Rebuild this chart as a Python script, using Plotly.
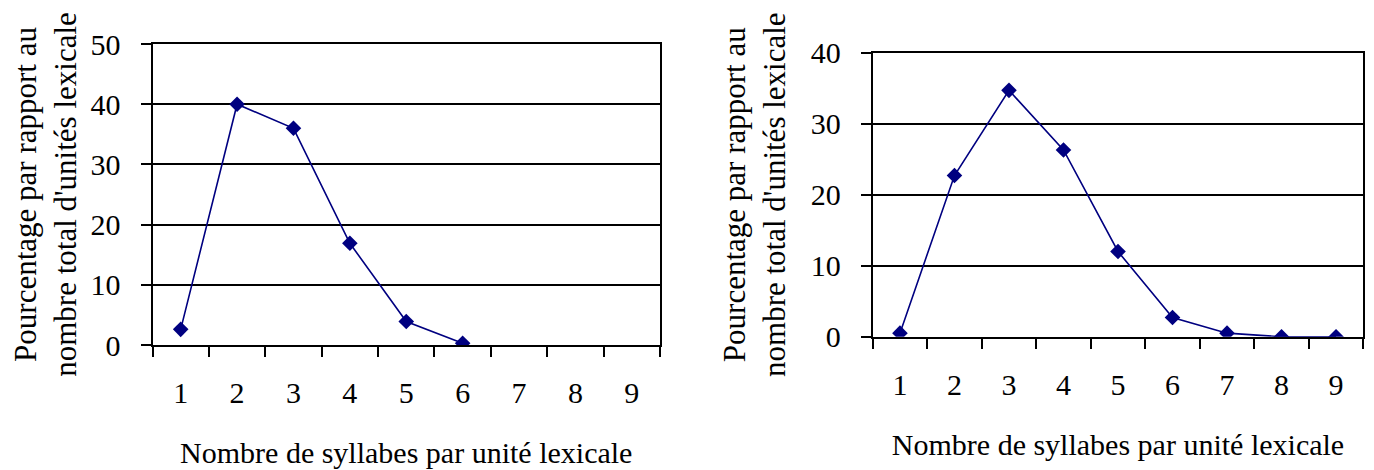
import plotly.graph_objects as go

# ---- data ----
syllables = [1, 2, 3, 4, 5, 6, 7, 8, 9]
left_x = [1, 2, 3, 4, 5, 6]
left_pct = [2.6, 40.0, 36.0, 16.9, 3.9, 0.3]
right_x = [1, 2, 3, 4, 5, 6, 7, 8, 9]
right_pct = [0.5, 22.7, 34.7, 26.3, 12.0, 2.7, 0.5, 0.0, 0.0]
left_yticks = [0, 10, 20, 30, 40, 50]
right_yticks = [0, 10, 20, 30, 40]
x_title = "Nombre de syllabes par unité lexicale"
y_title = "Pourcentage par rapport au<br>nombre total d'unités lexicale"

OFF = 8  # page body margin of the browser
W, H = 1374 - 2 * OFF, 470 - OFF
NAVY = "#000080"
FONT = "Liberation Serif"


def px_x(v):
    return (v - OFF) / W


def px_y(v):
    return 1 - (v - OFF) / H


fig = go.Figure()
fig.add_trace(go.Scatter(x=left_x, y=left_pct, mode="lines+markers",
                         line=dict(color=NAVY, width=1.6),
                         marker=dict(symbol="diamond", size=12, color=NAVY),
                         xaxis="x", yaxis="y", showlegend=False))
fig.add_trace(go.Scatter(x=right_x, y=right_pct, mode="lines+markers",
                         line=dict(color=NAVY, width=1.6),
                         marker=dict(symbol="diamond", size=12, color=NAVY),
                         xaxis="x2", yaxis="y2", showlegend=False))


def xaxis(domain, anchor):
    return dict(domain=domain, anchor=anchor, range=[0.5, 9.5],
                tickvals=syllables, ticktext=[str(s) for s in syllables],
                ticks="outside", ticklen=20, tickcolor="rgba(0,0,0,0)",
                minor=dict(ticks="outside", tick0=0.5, dtick=1, ticklen=10,
                           tickcolor="black", tickwidth=2, showgrid=False),
                showgrid=False, zeroline=False, showline=True, mirror=True,
                linecolor="black", linewidth=2, automargin=False,
                tickfont=dict(family=FONT, size=30, color="black"),
                title=dict(text=x_title, standoff=34,
                           font=dict(family=FONT, size=30, color="black")),
                fixedrange=True)


def yaxis(domain, anchor, rng, vals, standoff):
    return dict(domain=domain, anchor=anchor, range=rng, tickvals=vals,
                ticks="outside", ticklen=10, tickcolor="black", tickwidth=2,
                ticklabelstandoff=14, automargin=False,
                showgrid=True, gridcolor="black", gridwidth=2,
                zeroline=False, showline=True, mirror=True,
                linecolor="black", linewidth=2,
                tickfont=dict(family=FONT, size=30, color="black"),
                title=dict(text=y_title, standoff=standoff,
                           font=dict(family=FONT, size=31, color="black")),
                fixedrange=True)


fig.update_layout(
    width=W, height=H,
    margin=dict(l=0, r=0, t=0, b=0),
    paper_bgcolor="white", plot_bgcolor="white",
    font=dict(family=FONT, color="black"),
    xaxis=xaxis([px_x(152.5), px_x(660)], "y"),
    yaxis=yaxis([px_y(345), px_y(44)], "x", [0, 50], left_yticks, 12),
    xaxis2=xaxis([px_x(872.7), px_x(1363.3)], "y2"),
    yaxis2=yaxis([px_y(336.7), px_y(52.7)], "x2", [0, 40], right_yticks, 16),
)

fig.write_html("out.html")
